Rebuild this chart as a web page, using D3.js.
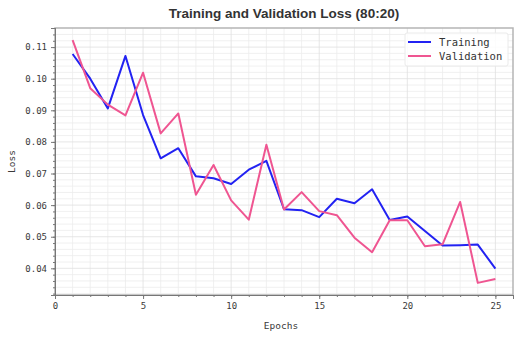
<!DOCTYPE html>
<html>
<head>
<meta charset="utf-8">
<script src="https://cdn.jsdelivr.net/npm/d3@7"></script>
<style>
  body { margin: 0; background: #fff; }
  svg { display: block; }
</style>
</head>
<body>
<svg id="chart" width="532" height="341"></svg>
<script>
// values
const epochs = d3.range(1, 26);
const trainingLoss = [0.1078, 0.1000, 0.0906, 0.1072, 0.0885, 0.0748, 0.0780, 0.0691, 0.0685, 0.0667,
  0.0712, 0.0740, 0.0587, 0.0584, 0.0562, 0.0620, 0.0606, 0.0650, 0.0553, 0.0564,
  0.0518, 0.0472, 0.0473, 0.0475, 0.0399];
const validationLoss = [0.1122, 0.0970, 0.0918, 0.0884, 0.1019, 0.0827, 0.0890, 0.0633, 0.0727, 0.0615,
  0.0554, 0.0791, 0.0586, 0.0641, 0.0581, 0.0568, 0.0497, 0.0451, 0.0552, 0.0552,
  0.0470, 0.0476, 0.0610, 0.0354, 0.0366];
const seriesNames = ['Training', 'Validation'];
const xTicks = [0, 5, 10, 15, 20, 25];
const yTicks = [0.04, 0.05, 0.06, 0.07, 0.08, 0.09, 0.10, 0.11];

const colors = {Training: '#2222f2', Validation: '#ef5591'};
const margin = {top: 28, right: 19, bottom: 46, left: 55};
const width = 532 - margin.left - margin.right;
const height = 341 - margin.top - margin.bottom;
const mono = '"DejaVu Sans Mono", monospace';

const allVals = trainingLoss.concat(validationLoss);
const yMin = d3.min(allVals), yMax = d3.max(allVals);
const pad = (yMax - yMin) * 0.05;

const sx = d3.scaleLinear().domain([0, 26]).range([0, width]);
const sy = d3.scaleLinear().domain([yMin - pad, yMax + pad]).range([height, 0]);

const svg = d3.select('#chart');
const g = svg.append('g').attr('transform', `translate(${margin.left},${margin.top})`);

// minor grid
g.append('g').selectAll('line')
  .data(d3.range(1, 26).filter(d => d % 5 !== 0))
  .join('line')
  .attr('x1', d => sx(d)).attr('x2', d => sx(d))
  .attr('y1', 0).attr('y2', height)
  .style('stroke', '#ececec').style('stroke-width', 0.8);
g.append('g').selectAll('line')
  .data(d3.range(0.032, 0.116, 0.002).filter(d => Math.abs(d * 100 - Math.round(d * 100)) > 0.01))
  .join('line')
  .attr('x1', 0).attr('x2', width)
  .attr('y1', d => sy(d)).attr('y2', d => sy(d))
  .style('stroke', '#ececec').style('stroke-width', 0.8);
// major grid
g.append('g').selectAll('line')
  .data(xTicks)
  .join('line')
  .attr('x1', d => sx(d)).attr('x2', d => sx(d))
  .attr('y1', 0).attr('y2', height)
  .style('stroke', '#e0e0e0').style('stroke-width', 0.8);
g.append('g').selectAll('line')
  .data(yTicks)
  .join('line')
  .attr('x1', 0).attr('x2', width)
  .attr('y1', d => sy(d)).attr('y2', d => sy(d))
  .style('stroke', '#e0e0e0').style('stroke-width', 0.8);

// frame
g.append('rect')
  .attr('width', width).attr('height', height)
  .style('fill', 'none').style('stroke', '#b5b5b5').style('stroke-width', 1.5);

// axes
const xAxis = d3.axisBottom(sx).tickValues(xTicks).tickSize(4).tickPadding(4).tickFormat(d3.format('d'));
const yAxis = d3.axisLeft(sy).tickValues(yTicks).tickSize(4).tickPadding(4).tickFormat(d3.format('.2f'));
const xMinor = d3.axisBottom(sx).tickValues(d3.range(0, 27)).tickSize(2).tickFormat('');
const yMinor = d3.axisLeft(sy).tickValues(d3.range(0.032, 0.116, 0.002)).tickSize(2).tickFormat('');

function styleAxis(sel) {
  sel.select('.domain').style('stroke', '#777').style('stroke-width', 1);
  sel.selectAll('.tick line').style('stroke', '#777');
  sel.selectAll('text').style('font-family', mono).style('font-size', '9px').style('fill', '#3a3a3a');
}
g.append('g').attr('transform', `translate(0,${height})`).call(xMinor).call(styleAxis);
g.append('g').call(yMinor).call(styleAxis);
g.append('g').attr('transform', `translate(0,${height})`).call(xAxis).call(styleAxis);
g.append('g').call(yAxis).call(styleAxis);

// lines, validation drawn last
const line = d3.line().x((d, i) => sx(epochs[i])).y(d => sy(d));
g.append('path').datum(trainingLoss)
  .attr('d', line)
  .style('fill', 'none').style('stroke', colors.Training).style('stroke-width', 2)
  .style('stroke-linejoin', 'round');
g.append('path').datum(validationLoss)
  .attr('d', line)
  .style('fill', 'none').style('stroke', colors.Validation).style('stroke-width', 2)
  .style('stroke-linejoin', 'round');

// legend
const leg = g.append('g').attr('transform', `translate(${width - 108},5)`);
leg.append('rect').attr('width', 103).attr('height', 33).attr('rx', 2)
  .style('fill', 'rgba(255,255,255,0.85)').style('stroke', '#eaeaea');
seriesNames.forEach((name, i) => {
  const row = leg.append('g').attr('transform', `translate(0,${9 + i * 14})`);
  row.append('line').attr('x1', 3).attr('x2', 26).attr('y1', 0).attr('y2', 0)
    .style('stroke', colors[name]).style('stroke-width', 2);
  row.append('text').attr('x', 34).attr('y', 0).attr('dy', '0.35em')
    .text(name)
    .style('font-family', mono).style('font-size', '10.5px').style('fill', '#333');
});

// labels
svg.append('text')
  .attr('x', margin.left + width / 2).attr('y', 18)
  .attr('text-anchor', 'middle')
  .text('Training and Validation Loss (80:20)')
  .style('font-family', '"Liberation Sans", Arial, sans-serif')
  .style('font-weight', 'bold').style('font-size', '13.5px').style('fill', '#333');
svg.append('text')
  .attr('x', margin.left + width / 2 - 3).attr('y', 329)
  .attr('text-anchor', 'middle')
  .text('Epochs')
  .style('font-family', mono).style('font-size', '9.5px').style('fill', '#3a3a3a');
svg.append('text')
  .attr('transform', `translate(15,${margin.top + height / 2}) rotate(-90)`)
  .attr('text-anchor', 'middle')
  .text('Loss')
  .style('font-family', mono).style('font-size', '9.5px').style('fill', '#3a3a3a');
</script>
</body>
</html>
